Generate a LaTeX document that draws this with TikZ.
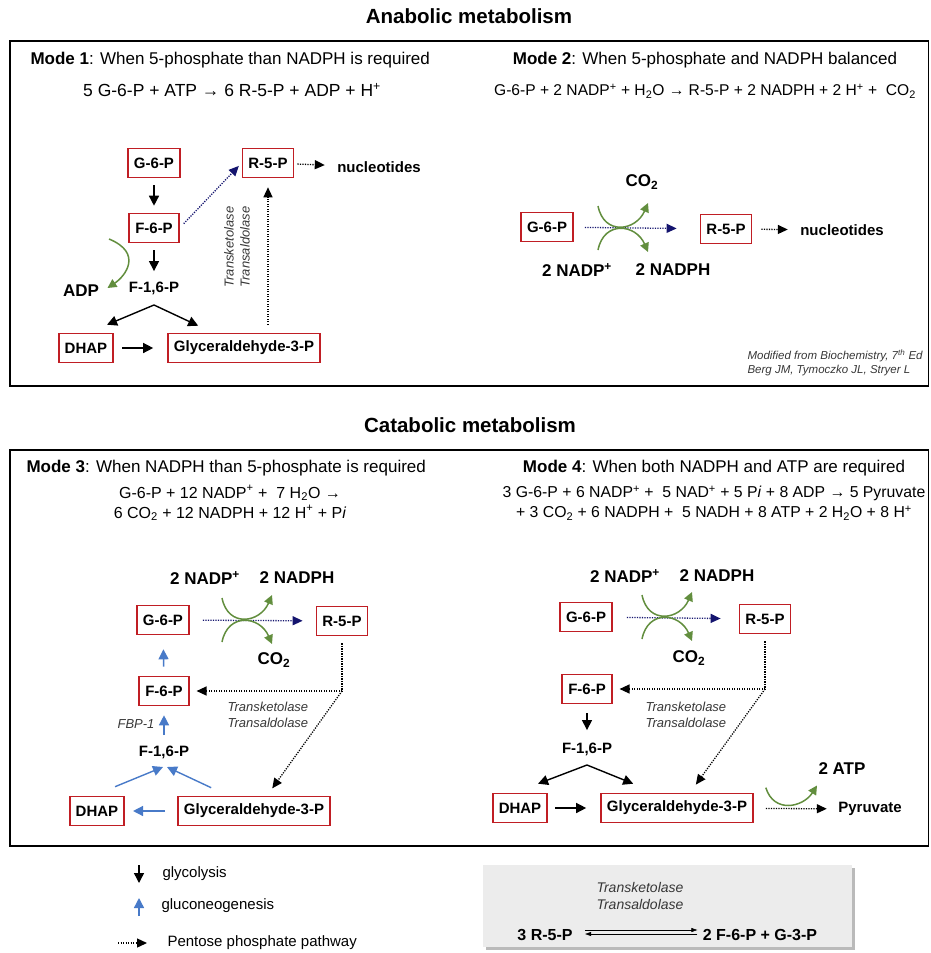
\documentclass[tikz,border=0pt]{standalone}
\usepackage{fontspec}
\setmainfont{Liberation Sans}
\usepackage{tikz}
\usetikzlibrary{arrows.meta,positioning,shadows}

\definecolor{boxred}{RGB}{192,30,36}
\definecolor{navy}{RGB}{20,20,110}
\definecolor{sidegreen}{RGB}{98,142,62}
\definecolor{glublue}{RGB}{72,122,200}
\definecolor{enzgray}{RGB}{55,55,55}
\definecolor{boxgray}{RGB}{236,236,236}

\begin{document}
\begin{tikzpicture}[x=1pt, y=-1pt,
		head/.style  = {font=\bfseries\fontsize{20.5}{24}\selectfont},
		mode/.style  = {font=\fontsize{17}{20}\selectfont},
		eqn/.style   = {font=\fontsize{16}{20}\selectfont, align=center},
		met/.style   = {draw=boxred, line width=1.6pt, font=\bfseries\fontsize{15}{17}\selectfont, inner xsep=6pt, minimum height=29pt},
		lab/.style   = {font=\bfseries\fontsize{15}{17}\selectfont},
		cof/.style   = {font=\bfseries\fontsize{17}{20}\selectfont},
		enz/.style   = {font=\itshape\fontsize{13}{16}\selectfont, text=enzgray, align=left},
		leg/.style   = {font=\fontsize{15}{18}\selectfont},
		cite/.style  = {font=\itshape\fontsize{11.5}{14}\selectfont, text=enzgray, align=left},
		gly/.style   = {line width=1.4pt, -{Triangle[length=10pt,width=10pt]}},
		gluco/.style = {gly, color=glublue},
		ppp/.style   = {line width=1.3pt, dash pattern=on 1.2pt off 1.3pt, -{Triangle[length=10pt,width=9pt]}},
		side/.style  = {line width=1.5pt, color=sidegreen, -{Triangle[length=9pt,width=9pt]}},
		gapped/.style = {shorten <=#1, shorten >=#1},
		frame/.style = {line width=1.5pt}]
		
		\useasboundingbox (0,0) rectangle (930,953);
		
		% headings and frames
		\node[head] (anatitle) at (469,16) {Anabolic metabolism};
		\node[head] (catitle) at (470,425) {Catabolic metabolism};
		\draw[frame] (10,41) rectangle (928.5,386);
		\draw[frame] (10,450) rectangle (928.5,846);
		
		% Mode 1
		\node[mode, anchor=west] (m1title) at (27,60) {\textbf{Mode 1}: When 5-phosphate than NADPH is required};
		\node[eqn, font=\fontsize{17.5}{20}\selectfont] (m1eq) at (232,90) {5 G-6-P + ATP → 6 R-5-P + ADP + H\textsuperscript{+}};
		\node[met] (m1g6p) at (154,163) {G-6-P};
		\node[met] (m1f6p) at (154,228) {F-6-P};
		\node[met] (m1r5p) at (268,163) {R-5-P};
		\node[lab] (m1nuc) at (379,167) {nucleotides};
		\node[lab] (m1f16) at (154,288) {F-1,6-P};
		\node[cof] (m1adp) at (81,291) {ADP};
		\node[met] (m1dhap) at (86,348) {DHAP};
		\node[met] (m1g3p) at (244,348) {Glyceraldehyde-3-P};
		\node[enz, rotate=90, align=center] (m1enz) at (237,247) {Transketolase\\Transaldolase};
		\coordinate (m1fork) at (154,305);
		\coordinate (m1atp) at (109,239);
		
		\draw[gly, gapped=7pt] (m1g6p) -- (m1f6p);
		\draw[gly, gapped=7pt] (m1f6p) -- (m1f16);
		\draw[gly] (m1fork) -- ([shift={(-7,-8)}]m1dhap.north east);
		\draw[gly] (m1fork) -- ([shift={(31,-7)}]m1g3p.north west);
		\draw[gly, shorten <=8pt, shorten >=14pt] (m1dhap) -- (m1g3p);
		\draw[ppp, navy, shorten <=6pt, shorten >=4pt] (m1f6p.east) -- (m1r5p.west);
		\draw[ppp, shorten <=3pt, shorten >=9pt] (m1r5p) -- (m1nuc);
		\draw[ppp, shorten <=8pt, shorten >=9pt] (m1r5p.south |- m1g3p.north) -- (m1r5p.south);
		\draw[side] (m1atp) .. controls +(34,14) and +(18,-12) .. ([shift={(5,-3)}]m1adp.east);
		
		% Mode 2
		\node[mode] (m2title) at (705,60) {\textbf{Mode 2}: When 5-phosphate and NADPH balanced};
		\node[eqn, font=\fontsize{15.6}{20}\selectfont] (m2eq) at (705,91) {G-6-P + 2 NADP\textsuperscript{+} + H\textsubscript{2}O → R-5-P + 2 NADPH + 2 H\textsuperscript{+} +~ CO\textsubscript{2}};
		\node[met] (m2g6p) at (547,227) {G-6-P};
		\node[met] (m2r5p) at (726,229) {R-5-P};
		\node[lab] (m2nuc) at (842,230) {nucleotides};
		\node[cof] (m2co2) at (642,182) {CO\textsubscript{2}};
		\node[cof] (m2nadp) at (577,270) {2 NADP\textsuperscript{+}};
		\node[cof] (m2nadph) at (673,270) {2 NADPH};
		\node[cite, anchor=north west] (m2cite) at (744,346) {Modified from Biochemistry, 7\textsuperscript{th} Ed\\Berg JM, Tymoczko JL, Stryer L};
		\coordinate (m2x) at (623,228);
		
		\draw[ppp, navy, shorten <=11pt, shorten >=23pt] (m2g6p) -- (m2r5p);
		\draw[ppp, shorten <=9pt, shorten >=9pt] (m2r5p) -- (m2nuc);
		
		% Mode 3
		\node[mode, anchor=west] (m3title) at (23,468) {\textbf{Mode 3}: When NADPH than 5-phosphate is required};
		\node[eqn] (m3eq) at (230,503) {G-6-P + 12 NADP\textsuperscript{+} +~ 7 H\textsubscript{2}O →\\6 CO\textsubscript{2} + 12 NADPH + 12 H\textsuperscript{+} + P\textit{i}};
		\node[met] (m3g6p) at (163,620) {G-6-P};
		\node[met] (m3r5p) at (342,621) {R-5-P};
		\node[cof] (m3nadp) at (205,578) {2 NADP\textsuperscript{+}};
		\node[cof] (m3nadph) at (297,578) {2 NADPH};
		\node[cof] (m3co2) at (274,660) {CO\textsubscript{2}};
		\node[met] (m3f6p) at (164,691) {F-6-P};
		\node[lab] (m3f16) at (164,752) {F-1,6-P};
		\node[enz] (m3fbp) at (136,724) {FBP-1};
		\node[met] (m3dhap) at (97,811) {DHAP};
		\node[met] (m3g3p) at (254,811) {Glyceraldehyde-3-P};
		\node[enz, anchor=west] (m3enz) at (224,715) {Transketolase\\Transaldolase};
		\coordinate (m3x) at (247,620);
		\coordinate (m3join) at (165,767);
		\coordinate (m3turn) at (m3r5p.south |- m3f6p.east);
		
		\draw[ppp, navy, gapped=13pt] (m3g6p) -- (m3r5p);
		\draw[gluco, shorten <=9pt, shorten >=14pt] (m3f6p) -- (m3g6p);
		\draw[gluco, shorten <=7pt, shorten >=9pt] (m3f16) -- (m3f6p);
		\draw[gluco] ([shift={(-10,-9)}]m3dhap.north east) -- ([xshift=-2pt]m3join);
		\draw[gluco] ([shift={(34,-8)}]m3g3p.north west) -- ([xshift=2pt]m3join);
		\draw[gluco, shorten <=12pt, shorten >=8pt] (m3g3p) -- (m3dhap);
		\draw[ppp, gapped=7pt] (m3r5p.south) -- (m3turn) -- (m3f6p.east);
		\draw[ppp, shorten >=9pt] (m3turn) -- ([xshift=13pt]m3g3p.north);
		
		% Mode 4
		\node[mode] (m4title) at (714,468) {\textbf{Mode 4}: When both NADPH and ATP are required};
		\node[eqn, font=\fontsize{15.8}{20}\selectfont] (m4eq) at (714,503) {3 G-6-P + 6 NADP\textsuperscript{+} +~ 5 NAD\textsuperscript{+} + 5 P\textit{i} + 8 ADP → 5 Pyruvate\\+ 3 CO\textsubscript{2} + 6 NADPH +~ 5 NADH + 8 ATP + 2 H\textsubscript{2}O + 8 H\textsuperscript{+}};
		\node[met] (m4g6p) at (586,617) {G-6-P};
		\node[met] (m4r5p) at (765,619) {R-5-P};
		\node[cof] (m4nadp) at (625,576) {2 NADP\textsuperscript{+}};
		\node[cof] (m4nadph) at (717,576) {2 NADPH};
		\node[cof] (m4co2) at (689,658) {CO\textsubscript{2}};
		\node[met] (m4f6p) at (587,689) {F-6-P};
		\node[lab] (m4f16) at (587,749) {F-1,6-P};
		\node[met] (m4dhap) at (520,808) {DHAP};
		\node[met] (m4g3p) at (677,808) {Glyceraldehyde-3-P};
		\node[lab] (m4pyr) at (870,809) {Pyruvate};
		\node[cof] (m4atp) at (842,769) {2 ATP};
		\node[enz, anchor=west] (m4enz) at (642,715) {Transketolase\\Transaldolase};
		\coordinate (m4x) at (667,617);
		\coordinate (m4fork) at (587,765);
		\coordinate (m4turn) at (m4r5p.south |- m4f6p.east);
		
		\draw[ppp, navy, shorten <=14pt, shorten >=18pt] (m4g6p) -- (m4r5p);
		\draw[gly, gapped=9pt] (m4f6p) -- (m4f16);
		\draw[gly] (m4fork) -- ([shift={(-10,-9)}]m4dhap.north east);
		\draw[gly] (m4fork) -- ([shift={(33,-9)}]m4g3p.north west);
		\draw[gly, shorten <=7pt, shorten >=14pt] (m4dhap) -- (m4g3p);
		\draw[ppp, gapped=7pt] (m4r5p.south) -- (m4turn) -- (m4f6p.east);
		\draw[ppp, shorten >=10pt] (m4turn) -- ([xshift=13pt]m4g3p.north);
		\draw[ppp, shorten <=12pt, shorten >=8pt] (m4g3p) -- (m4pyr);
		\draw[side] ([shift={(12,-5)}]m4g3p.north east) .. controls +(8,26) and +(-14,22) .. ([shift={(2,7)}]m4atp.south west);
		
		% cofactor arcs crossing the oxidative branch
		\foreach \c in {m2x,m3x,m4x}{
			\draw[side] ([shift={(-25,-22)}]\c) .. controls +(6,30) and +(-12,28) .. ([shift={(25,-25)}]\c);
			\draw[side] ([shift={(-25,22)}]\c) .. controls +(6,-30) and +(-12,-28) .. ([shift={(25,24)}]\c);
		}
		
		% legend
		\node[leg, anchor=west] (lgly) at (159,874) {glycolysis};
		\node[leg, anchor=west] (lglu) at (158,906) {gluconeogenesis};
		\node[leg, anchor=west] (lppp) at (164,943) {Pentose phosphate pathway};
		\draw[gly] ([shift={(-20,-9)}]lgly.west) -- ++(0,18);
		\draw[gluco] ([shift={(-19,10)}]lglu.west) -- ++(0,-18);
		\draw[ppp] ([shift={(-46,0)}]lppp.west) -- ++(29,0);
		
		% non-oxidative equilibrium box
		\node[fill=boxgray, drop shadow={shadow xshift=3pt, shadow yshift=-3pt, fill=black!45, opacity=.6}, minimum width=369pt, minimum height=82pt, inner sep=0pt] (eqbox) at (667.5,906) {};
		\node[enz, align=center, font=\itshape\fontsize{14}{17}\selectfont] (eqenz) at (640,896) {Transketolase\\Transaldolase};
		\node[cof, font=\bfseries\fontsize{16}{19}\selectfont] (eqleft) at (545,934.5) {3 R-5-P};
		\node[cof, font=\bfseries\fontsize{16}{19}\selectfont] (eqright) at (760,934.5) {2 F-6-P + G-3-P};
		\draw[line width=.6pt, -{Triangle[length=6pt,width=4pt]}] ([shift={(9,-4.5)}]eqleft.east) -- ([shift={(-2,-4.5)}]eqright.west);
		\draw[line width=.6pt, -{Triangle[length=6pt,width=4pt]}] ([shift={(-2,-0.5)}]eqright.west) -- ([shift={(9,-0.5)}]eqleft.east);
		
	\end{tikzpicture}
\end{document}
